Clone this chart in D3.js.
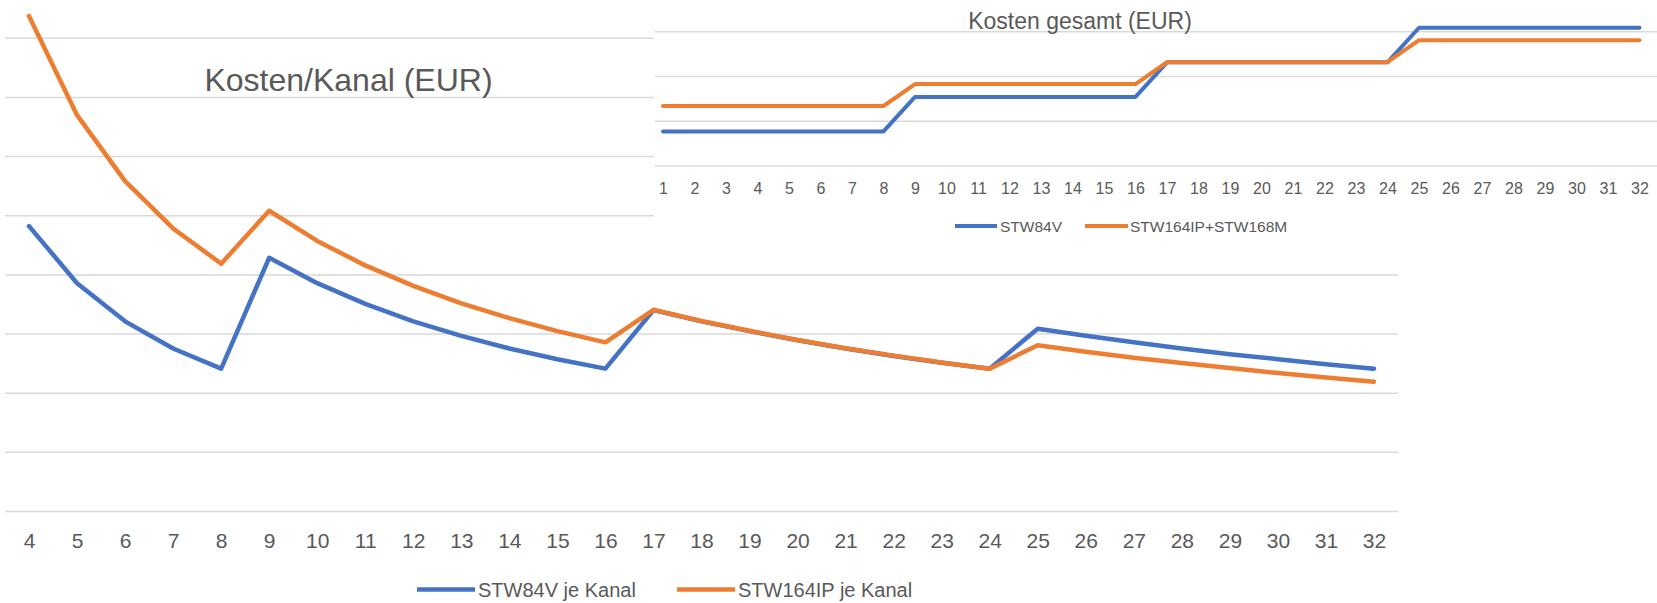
<!DOCTYPE html>
<html>
<head>
<meta charset="utf-8">
<script src="https://cdn.jsdelivr.net/npm/d3@7"></script>
<style>
  html, body { margin: 0; padding: 0; background: #ffffff; }
  svg { display: block; }
  text { font-family: "Liberation Sans", Arial, sans-serif; fill: #595959; }
</style>
</head>
<body>
<svg id="chart" width="1657" height="603"></svg>
<script>
// ---------- Main chart: cost per channel ----------
const kanalCategories = [4,5,6,7,8,9,10,11,12,13,14,15,16,17,18,19,20,21,22,23,24,25,26,27,28,29,30,31,32];
const stw84vJeKanal = [96.5,77.2,64.3,55.1,48.3,85.8,77.2,70.2,64.3,59.4,55.1,51.5,48.3,68.1,64.3,61.0,57.9,55.1,52.6,50.3,48.3,61.8,59.4,57.2,55.1,53.2,51.5,49.8,48.3];
const stw164ipJeKanal = [167.5,134.0,111.7,95.7,83.8,101.7,91.5,83.2,76.3,70.4,65.4,61.0,57.2,68.2,64.4,61.1,58.0,55.2,52.7,50.4,48.3,56.2,54.0,52.0,50.2,48.5,46.8,45.3,43.9];
const mainTicks = [0,20,40,60,80,100,120,140,160];
const mainTitle = "Kosten/Kanal (EUR)";
const mainLegend = ["STW84V je Kanal", "STW164IP je Kanal"];

// ---------- Inset chart: total cost ----------
const gesamtCategories = [1,2,3,4,5,6,7,8,9,10,11,12,13,14,15,16,17,18,19,20,21,22,23,24,25,26,27,28,29,30,31,32];
const stw84vGesamt = [386,386,386,386,386,386,386,386,772,772,772,772,772,772,772,772,1158,1158,1158,1158,1158,1158,1158,1158,1544,1544,1544,1544,1544,1544,1544,1544];
const stw164Gesamt = [670,670,670,670,670,670,670,670,915,915,915,915,915,915,915,915,1160,1160,1160,1160,1160,1160,1160,1160,1405,1405,1405,1405,1405,1405,1405,1405];
const insetTicks = [0,500,1000,1500];
const insetTitle = "Kosten gesamt (EUR)";
const insetLegend = ["STW84V", "STW164IP+STW168M"];

const BLUE = "#4472C4", ORANGE = "#ED7D31", GRID = "#d9d9d9";

const svg = d3.select("#chart");

// ===== Main chart =====
const mx = d3.scalePoint().domain(kanalCategories).range([5, 1398]).padding(0.5);
const my = d3.scaleLinear().domain([0, 160]).range([511.5, 38.3]);

const main = svg.append("g");
main.append("g").selectAll("line").data(mainTicks).join("line")
  .attr("x1", 5).attr("x2", 1398)
  .attr("y1", d => my(d)).attr("y2", d => my(d))
  .attr("stroke", GRID).attr("stroke-width", 1.5);

const mxAxis = main.append("g").attr("transform", "translate(0,511.5)")
  .call(d3.axisBottom(mx).tickSize(0).tickPadding(0));
mxAxis.select(".domain").remove();
mxAxis.selectAll("text")
  .attr("y", 36).attr("dy", null)
  .style("font-size", "21px").style("font-family", '"Liberation Sans", Arial, sans-serif')
  .attr("fill", "#595959");

const mline = d3.line().x((d, i) => mx(kanalCategories[i])).y(d => my(d));
main.append("path").datum(stw84vJeKanal).attr("d", mline)
  .attr("fill", "none").attr("stroke", BLUE).attr("stroke-width", 4.5)
  .attr("stroke-linejoin", "round").attr("stroke-linecap", "round");
main.append("path").datum(stw164ipJeKanal).attr("d", mline)
  .attr("fill", "none").attr("stroke", ORANGE).attr("stroke-width", 4.5)
  .attr("stroke-linejoin", "round").attr("stroke-linecap", "round");

main.append("text").attr("x", 348.5).attr("y", 90.7).attr("text-anchor", "middle")
  .style("font-size", "32px").text(mainTitle);

// main legend
const mainLegItems = [
  {label: mainLegend[0], color: BLUE, x0: 417, x1: 475, tx: 478},
  {label: mainLegend[1], color: ORANGE, x0: 677, x1: 735, tx: 738}
];
const ml = main.append("g");
mainLegItems.forEach(it => {
  ml.append("line").attr("x1", it.x0).attr("x2", it.x1).attr("y1", 589.5).attr("y2", 589.5)
    .attr("stroke", it.color).attr("stroke-width", 4.5);
  ml.append("text").attr("x", it.tx).attr("y", 597).style("font-size", "20px").text(it.label);
});

// ===== Inset chart =====
const inset = svg.append("g");
inset.append("rect").attr("x", 654).attr("y", 0).attr("width", 1003).attr("height", 250).attr("fill", "#ffffff");

const ix = d3.scalePoint().domain(gesamtCategories).range([647.25, 1655.25]).padding(0.5);
const iy = d3.scaleLinear().domain([0, 1500]).range([166, 31.7]);

inset.append("g").selectAll("line").data(insetTicks).join("line")
  .attr("x1", 655).attr("x2", 1657)
  .attr("y1", d => iy(d)).attr("y2", d => iy(d))
  .attr("stroke", GRID).attr("stroke-width", 1.5);

const ixAxis = inset.append("g").attr("transform", "translate(0,166)")
  .call(d3.axisBottom(ix).tickSize(0).tickPadding(0));
ixAxis.select(".domain").remove();
ixAxis.selectAll("text")
  .attr("y", 27.5).attr("dy", null)
  .style("font-size", "16px").style("font-family", '"Liberation Sans", Arial, sans-serif')
  .attr("fill", "#595959");

const iline = d3.line().x((d, i) => ix(gesamtCategories[i])).y(d => iy(d));
inset.append("path").datum(stw84vGesamt).attr("d", iline)
  .attr("fill", "none").attr("stroke", BLUE).attr("stroke-width", 4)
  .attr("stroke-linejoin", "round").attr("stroke-linecap", "round");
inset.append("path").datum(stw164Gesamt).attr("d", iline)
  .attr("fill", "none").attr("stroke", ORANGE).attr("stroke-width", 4)
  .attr("stroke-linejoin", "round").attr("stroke-linecap", "round");

inset.append("text").attr("x", 1080).attr("y", 29).attr("text-anchor", "middle")
  .style("font-size", "23px").text(insetTitle);

const insetLegItems = [
  {label: insetLegend[0], color: BLUE, x0: 955, x1: 997, tx: 1000},
  {label: insetLegend[1], color: ORANGE, x0: 1085, x1: 1128, tx: 1130}
];
insetLegItems.forEach(it => {
  inset.append("line").attr("x1", it.x0).attr("x2", it.x1).attr("y1", 226).attr("y2", 226)
    .attr("stroke", it.color).attr("stroke-width", 4);
  inset.append("text").attr("x", it.tx).attr("y", 231.5).style("font-size", "15.5px").text(it.label);
});
</script>
</body>
</html>
